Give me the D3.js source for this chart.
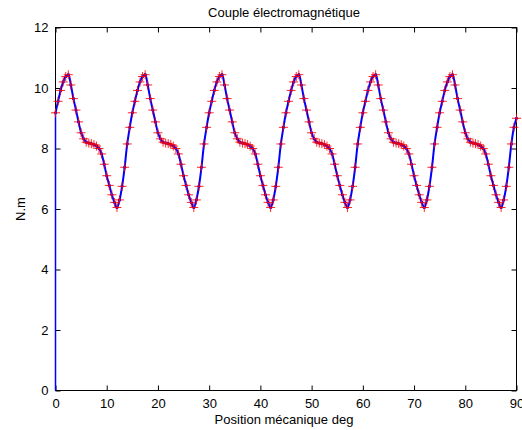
<!DOCTYPE html>
<html><head><meta charset="utf-8">
<script src="https://cdn.jsdelivr.net/npm/d3@7"></script>
<style>
body{margin:0;background:#fff}
svg{display:block}
text{font-family:"Liberation Sans",Arial,Helvetica,sans-serif;fill:#000}
</style>
</head><body>
<svg id="chart" width="522" height="430"></svg>
<script>
// ---- data ----
const title = "Couple électromagnétique";
const xLabel = "Position mécanique deg";
const yLabel = "N.m";
const xTicks = [0, 10, 20, 30, 40, 50, 60, 70, 80, 90];
const yTicks = [0, 2, 4, 6, 8, 10, 12];
const startPosition = 0;
const startTorque = 0;
const position = [
  0, 0.5, 1, 1.5, 2, 2.5, 3, 3.5, 4, 4.5, 5, 5.5, 6, 6.5, 7, 7.5, 8, 8.5, 9, 9.5, 10, 10.5, 11, 11.5, 12, 12.5, 13, 13.5, 14, 14.5,
  15, 15.5, 16, 16.5, 17, 17.5, 18, 18.5, 19, 19.5, 20, 20.5, 21, 21.5, 22, 22.5, 23, 23.5, 24, 24.5, 25, 25.5, 26, 26.5, 27, 27.5, 28, 28.5, 29, 29.5,
  30, 30.5, 31, 31.5, 32, 32.5, 33, 33.5, 34, 34.5, 35, 35.5, 36, 36.5, 37, 37.5, 38, 38.5, 39, 39.5, 40, 40.5, 41, 41.5, 42, 42.5, 43, 43.5, 44, 44.5,
  45, 45.5, 46, 46.5, 47, 47.5, 48, 48.5, 49, 49.5, 50, 50.5, 51, 51.5, 52, 52.5, 53, 53.5, 54, 54.5, 55, 55.5, 56, 56.5, 57, 57.5, 58, 58.5, 59, 59.5,
  60, 60.5, 61, 61.5, 62, 62.5, 63, 63.5, 64, 64.5, 65, 65.5, 66, 66.5, 67, 67.5, 68, 68.5, 69, 69.5, 70, 70.5, 71, 71.5, 72, 72.5, 73, 73.5, 74, 74.5,
  75, 75.5, 76, 76.5, 77, 77.5, 78, 78.5, 79, 79.5, 80, 80.5, 81, 81.5, 82, 82.5, 83, 83.5, 84, 84.5, 85, 85.5, 86, 86.5, 87, 87.5, 88, 88.5, 89, 89.5,
  90
];
const torque = [
  9.18, 9.56, 9.92, 10.2, 10.38, 10.44, 10.1, 9.65, 9.27, 8.88, 8.52, 8.32, 8.21, 8.18, 8.16, 8.13, 8.08, 8.0, 7.82, 7.48, 7.1, 6.78, 6.47, 6.22, 6.05, 6.3, 6.75, 7.38, 8.15, 8.7,
  9.18, 9.56, 9.92, 10.2, 10.38, 10.44, 10.1, 9.65, 9.27, 8.88, 8.52, 8.32, 8.21, 8.18, 8.16, 8.13, 8.08, 8.0, 7.82, 7.48, 7.1, 6.78, 6.47, 6.22, 6.05, 6.3, 6.75, 7.38, 8.15, 8.7,
  9.18, 9.56, 9.92, 10.2, 10.38, 10.44, 10.1, 9.65, 9.27, 8.88, 8.52, 8.32, 8.21, 8.18, 8.16, 8.13, 8.08, 8.0, 7.82, 7.48, 7.1, 6.78, 6.47, 6.22, 6.05, 6.3, 6.75, 7.38, 8.15, 8.7,
  9.18, 9.56, 9.92, 10.2, 10.38, 10.44, 10.1, 9.65, 9.27, 8.88, 8.52, 8.32, 8.21, 8.18, 8.16, 8.13, 8.08, 8.0, 7.82, 7.48, 7.1, 6.78, 6.47, 6.22, 6.05, 6.3, 6.75, 7.38, 8.15, 8.7,
  9.18, 9.56, 9.92, 10.2, 10.38, 10.44, 10.1, 9.65, 9.27, 8.88, 8.52, 8.32, 8.21, 8.18, 8.16, 8.13, 8.08, 8.0, 7.82, 7.48, 7.1, 6.78, 6.47, 6.22, 6.05, 6.3, 6.75, 7.38, 8.15, 8.7,
  9.18, 9.56, 9.92, 10.2, 10.38, 10.44, 10.1, 9.65, 9.27, 8.88, 8.52, 8.32, 8.21, 8.18, 8.16, 8.13, 8.08, 8.0, 7.82, 7.48, 7.1, 6.78, 6.47, 6.22, 6.05, 6.3, 6.75, 7.38, 8.15, 8.7,
  9.0
];

// ---- layout ----
const svg = d3.select("#chart");
const padL = 55.5, padR = 516.5, padT = 27.5, padB = 390.5;
const x = d3.scaleLinear().domain([0, 90]).range([padL, padR]);
const y = d3.scaleLinear().domain([0, 12]).range([padB, padT]);

const pts = position.map((p, i) => [p, torque[i]]);
const startSeg = [[startPosition, startTorque], pts[0]];

// axes (MATLAB box style, inward ticks)
const tickLen = 5;
const axB = svg.append("g").attr("transform", `translate(0,${padB})`)
  .call(d3.axisBottom(x).tickValues(xTicks).tickSize(-tickLen).tickPadding(8).tickFormat(d3.format("d")));
const axT = svg.append("g").attr("transform", `translate(0,${padT})`)
  .call(d3.axisTop(x).tickValues(xTicks).tickSize(-tickLen).tickFormat(""));
const axL = svg.append("g").attr("transform", `translate(${padL},0)`)
  .call(d3.axisLeft(y).tickValues(yTicks).tickSize(-tickLen).tickPadding(7).tickFormat(d3.format("d")));
const axR = svg.append("g").attr("transform", `translate(${padR},0)`)
  .call(d3.axisRight(y).tickValues(yTicks).tickSize(-tickLen).tickFormat(""));
[axB, axT, axL, axR].forEach(a => {
  a.select(".domain").remove();
  a.selectAll("line").attr("stroke", "#000");
  a.selectAll("text").attr("font-size", 13).attr("font-family", "Liberation Sans, Arial, sans-serif").attr("fill", "#000");
});
svg.append("rect").attr("x", padL).attr("y", padT).attr("width", padR - padL).attr("height", padB - padT)
  .attr("fill", "none").attr("stroke", "#000").attr("stroke-width", 1);

// blue line with dots
const line = d3.line().x(d => x(d[0])).y(d => y(d[1])).curve(d3.curveCatmullRom);
svg.append("path").datum(pts).attr("d", line)
  .attr("fill", "none").attr("stroke", "#0000ff").attr("stroke-width", 2);
svg.append("path").datum(startSeg).attr("d", d3.line().x(d => x(d[0])).y(d => y(d[1])))
  .attr("fill", "none").attr("stroke", "#0000ff").attr("stroke-width", 1.5);
svg.append("g").selectAll("circle").data(pts).join("circle")
  .attr("cx", d => x(d[0])).attr("cy", d => y(d[1])).attr("r", 1.6).attr("fill", "#0000ff");

// red "+" markers on top
svg.append("g").selectAll("path").data(pts).join("path")
  .attr("d", d => `M${x(d[0]) - 4.5},${y(d[1])}H${x(d[0]) + 4.5}M${x(d[0])},${y(d[1]) - 4.5}V${y(d[1]) + 4.5}`)
  .attr("stroke", "#ff0000").attr("stroke-width", 1).attr("fill", "none").attr("opacity", 0.85);

// labels
svg.append("text").attr("x", 284).attr("y", 17).attr("text-anchor", "middle")
  .attr("font-size", 13).text(title);
svg.append("text").attr("x", 284).attr("y", 424).attr("text-anchor", "middle")
  .attr("font-size", 13).text(xLabel);
svg.append("text").attr("transform", `translate(25,${(padT + padB) / 2}) rotate(-90)`)
  .attr("text-anchor", "middle").attr("font-size", 13).text(yLabel);
</script>
</body></html>
